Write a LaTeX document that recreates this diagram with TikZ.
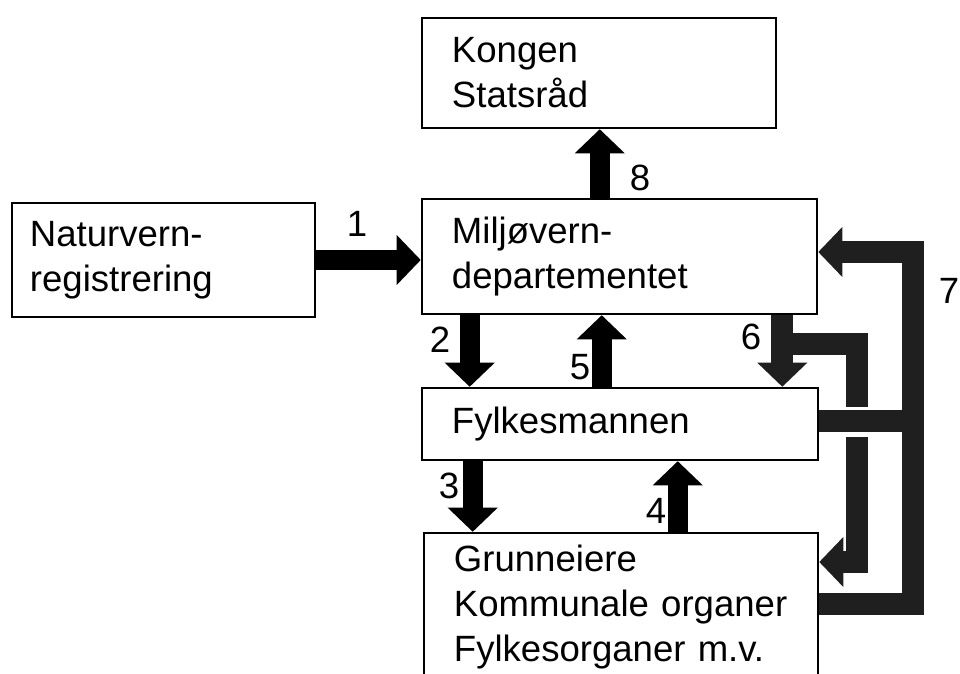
\documentclass[tikz,border=0pt]{standalone}
\usepackage{fontspec}
\setmainfont{Liberation Sans}
\usetikzlibrary{arrows.meta}

\tikzset{
  blokk/.style={draw, line width=1.8pt, align=left, inner xsep=0.75cm, inner ysep=0pt,
    font=\fontsize{26}{32}\selectfont},
  pil/.style={line width=0.5cm, -{Triangle[length=0.6cm, width=1.25cm, line width=0pt]}},
  bane/.style={line width=0.55cm, black!88},
  tall/.style={font=\fontsize{26}{30}\selectfont, inner sep=0pt}
}

\begin{document}
\begin{tikzpicture}[x=0.025cm, y=-0.025cm]
    \useasboundingbox (0,0) rectangle (960,674);

    % boksene
    \node[blokk, text width=7.35cm, minimum height=2.75cm] (kongen) at (599,73) {Kongen\\Statsråd};
    \node[blokk, text width=6.675cm, minimum height=2.85cm, inner xsep=0.45cm] (natur) at (163.5,260) {Naturvern-\\registrering};
    \node[blokk, text width=8.375cm, minimum height=2.875cm] (miljo) at (619.5,256.5) {Miljøvern-\\departementet};
    \node[blokk, text width=8.4cm, minimum height=1.8cm] (fylkes) at (620,424) {Fylkesmannen};
    \node[blokk, text width=8.35cm, minimum height=3.7cm] (grunn) at (621,607) {Grunneiere\\Kommunale organer\\Fylkesorganer m.v.};

    % knekkpunkter
    \coordinate (a8) at ([xshift=4.475cm]miljo.north west);
    \coordinate (a2) at ([xshift=1.225cm]miljo.south west);
    \coordinate (a5) at ([xshift=4.525cm]fylkes.north west);
    \coordinate (a3) at ([xshift=1.3cm]fylkes.south west);
    \coordinate (a4) at ([xshift=6.425cm]fylkes.south west);
    \coordinate (a6) at ([xshift=-0.9cm]miljo.south east);
    \coordinate (h6) at (857,344);
    \coordinate (e6) at (857,407);
    \coordinate (s6) at (857,437);
    \coordinate (g6) at (857,562);
    \coordinate (h7) at (913,252);
    \coordinate (m7) at (913,421);
    \coordinate (b7) at (913,604);

    \draw[pil] (natur.east) -- (natur.east -| miljo.west);
    \draw[pil] (a8) -- (a8 |- kongen.south);
    \draw[pil] (a2) -- (a2 |- fylkes.north);
    \draw[pil] (a5) -- (a5 |- miljo.south);
    \draw[pil] (a3) -- (a3 |- grunn.north);
    \draw[pil] (a4 |- grunn.north) -- (a4);

    % 6 og 7
    \draw[pil, bane] (a6) -- (a6 |- fylkes.north);
    \draw[bane] (a6 |- h6) -- (h6) -- (e6);
    \draw[pil, bane] (s6) -- (g6) -- (g6 -| grunn.east);
    \draw[bane] (fylkes.east |- m7) -- (m7);
    \draw[pil, bane] (grunn.east |- b7) -- (b7) -- (h7) -- (h7 -| miljo.east);

    \node[tall] (l1) at (357,224) {1};
    \node[tall] (l2) at (440,340) {2};
    \node[tall] (l3) at (449,486) {3};
    \node[tall] (l4) at (656,511) {4};
    \node[tall] (l5) at (580,367) {5};
    \node[tall] (l6) at (751,337) {6};
    \node[tall] (l7) at (949,291) {7};
    \node[tall] (l8) at (640,178) {8};
\end{tikzpicture}
\end{document}
